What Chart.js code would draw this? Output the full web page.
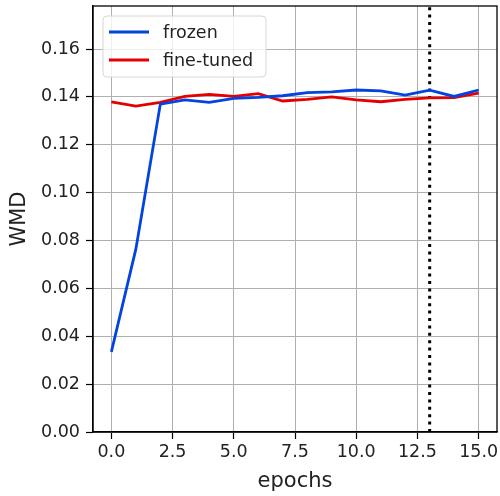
<!DOCTYPE html>
<html>
<head>
<meta charset="utf-8">
<script src="https://cdn.jsdelivr.net/npm/chart.js@4.4.0/dist/chart.umd.min.js"></script>
<style>
    html, body { margin: 0; padding: 0; background: #fff; }
    #chart { display: block; }
</style>
</head>
<body>
<canvas id="chart" width="500" height="496"></canvas>
<script>
// ---- data ----
const epochs = [0, 1, 2, 3, 4, 5, 6, 7, 8, 9, 10, 11, 12, 13, 14, 15];
const frozen = [0.0335, 0.0764, 0.1370, 0.1388, 0.1377, 0.1394, 0.1398, 0.1405, 0.1418, 0.1421, 0.1429, 0.1425, 0.1408, 0.1428, 0.1402, 0.1429];
const fineTuned = [0.1379, 0.1362, 0.1377, 0.1402, 0.1411, 0.1402, 0.1414, 0.1383, 0.1390, 0.1400, 0.1388, 0.1380, 0.1390, 0.1396, 0.1397, 0.1416];
const xTicks = [0, 2.5, 5, 7.5, 10, 12.5, 15];
const yTicks = [0, 0.02, 0.04, 0.06, 0.08, 0.10, 0.12, 0.14, 0.16];
const xRange = [-0.75, 15.75];
const yRange = [0, 0.178];
const markerEpoch = 13;

const FONT = "'DejaVu Sans', sans-serif";
const TICK_SIZE = 17.5;
const TITLE_SIZE = 21;

// axes frame (top + right spines)
const framePlugin = {
    id: 'frame',
    afterDatasetsDraw(chart) {
        const { ctx, chartArea: a } = chart;
        ctx.save();
        ctx.strokeStyle = '#000';
        ctx.lineWidth = 1.3;
        ctx.strokeRect(a.left, a.top, a.right - a.left, a.bottom - a.top);
        ctx.restore();
    }
};

// matplotlib-style legend in the upper left
const legendPlugin = {
    id: 'mplLegend',
    afterDraw(chart) {
        const { ctx, chartArea: a } = chart;
        const items = chart.data.datasets.filter(d => d.label);
        const x = a.left + 10, y = a.top + 10, w = 163, h = 61, r = 4;
        ctx.save();
        ctx.beginPath();
        ctx.roundRect(x, y, w, h, r);
        ctx.fillStyle = 'rgba(255,255,255,0.8)';
        ctx.fill();
        ctx.strokeStyle = '#d6d6d6';
        ctx.lineWidth = 1;
        ctx.stroke();
        ctx.font = TICK_SIZE + 'px ' + FONT;
        ctx.textBaseline = 'middle';
        items.forEach((d, i) => {
            const cy = y + 16 + i * 28;
            ctx.strokeStyle = d.borderColor;
            ctx.lineWidth = d.borderWidth;
            ctx.beginPath();
            ctx.moveTo(x + 6, cy);
            ctx.lineTo(x + 46, cy);
            ctx.stroke();
            ctx.fillStyle = '#222';
            ctx.fillText(d.label, x + 60, cy + 1);
        });
        ctx.restore();
    }
};

const ctx = document.getElementById('chart').getContext('2d');
new Chart(ctx, {
    type: 'line',
    data: {
        datasets: [{
            label: 'frozen',
            data: epochs.map((e, i) => ({ x: e, y: frozen[i] })),
            borderColor: '#0343df',
            borderWidth: 2.8,
            pointRadius: 0,
            tension: 0
        }, {
            label: 'fine-tuned',
            data: epochs.map((e, i) => ({ x: e, y: fineTuned[i] })),
            borderColor: '#e50000',
            borderWidth: 2.8,
            pointRadius: 0,
            tension: 0
        }, {
            label: '',
            data: [{ x: markerEpoch, y: yRange[0] }, { x: markerEpoch, y: yRange[1] }],
            borderColor: '#000',
            borderWidth: 3,
            borderDash: [3, 4.4],
            borderCapStyle: 'butt',
            pointRadius: 0
        }]
    },
    options: {
        responsive: false,
        animation: false,
        layout: { padding: { top: 6, right: 3, left: 0, bottom: 0 } },
        plugins: {
            legend: { display: false },
            tooltip: { enabled: false }
        },
        scales: {
            x: {
                type: 'linear',
                min: xRange[0],
                max: xRange[1],
                afterBuildTicks: s => { s.ticks = xTicks.map(v => ({ value: v })); },
                afterFit: s => { s.height = 64; s.paddingLeft = 0; s.paddingRight = 0; },
                ticks: {
                    color: '#222',
                    font: { family: FONT, size: TICK_SIZE },
                    padding: 3,
                    maxRotation: 0,
                    callback: v => v.toFixed(1)
                },
                grid: { color: '#b0b0b0', lineWidth: 1, tickLength: 7, tickColor: '#000', tickWidth: 1.2 },
                border: { display: true, color: '#000', width: 1.3 },
                title: {
                    display: true,
                    text: 'epochs',
                    color: '#222',
                    font: { family: FONT, size: TITLE_SIZE },
                    padding: { top: 0, bottom: 2 }
                }
            },
            y: {
                min: yRange[0],
                max: yRange[1],
                afterBuildTicks: s => { s.ticks = yTicks.map(v => ({ value: v })); },
                afterFit: s => { s.width = 93; s.paddingTop = 0; s.paddingBottom = 0; },
                ticks: {
                    color: '#222',
                    font: { family: FONT, size: TICK_SIZE },
                    padding: 6,
                    callback: v => v.toFixed(2)
                },
                grid: { color: '#b0b0b0', lineWidth: 1, tickLength: 7, tickColor: '#000', tickWidth: 1.2 },
                border: { display: true, color: '#000', width: 1.3 },
                title: {
                    display: true,
                    text: 'WMD',
                    color: '#222',
                    font: { family: FONT, size: TITLE_SIZE },
                    padding: { top: 7, bottom: 0 }
                }
            }
        }
    },
    plugins: [framePlugin, legendPlugin]
});
</script>
</body>
</html>
